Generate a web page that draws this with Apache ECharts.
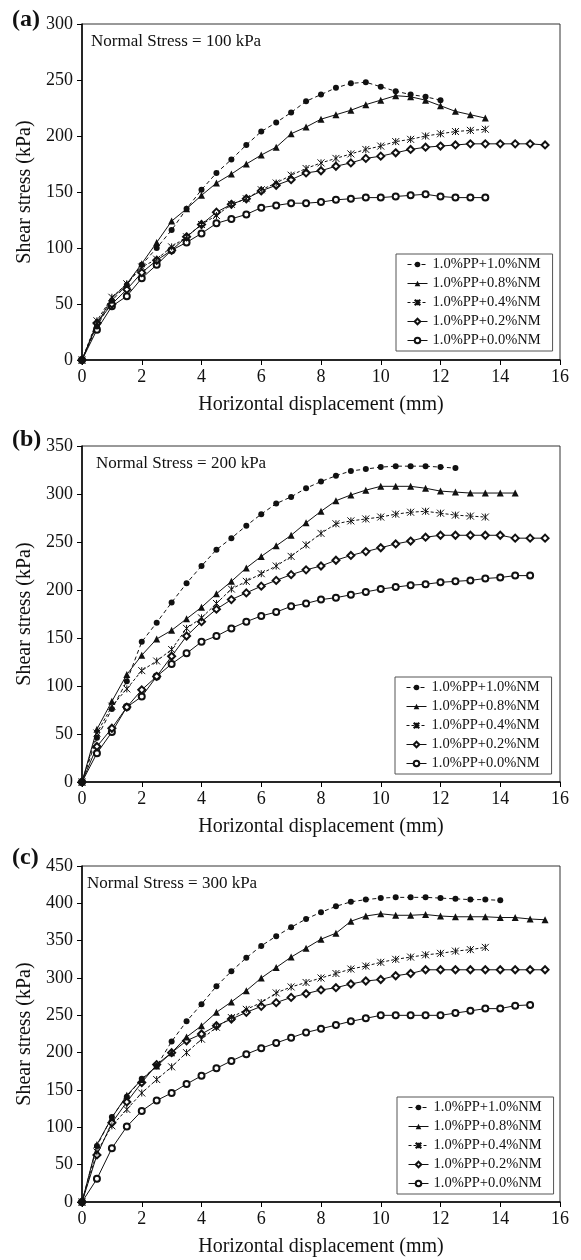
<!DOCTYPE html>
<html>
<head>
<meta charset="utf-8">
<script src="https://cdn.jsdelivr.net/npm/echarts@6/dist/echarts.min.js"></script>
<style>
  html, body { margin: 0; padding: 0; background: #fff; }
  #chart { width: 581px; height: 1260px; }
</style>
</head>
<body>
<div id="chart"></div>
<script>
// Horizontal displacement (mm) sampled every 0.5 mm
const DISP = [0, 0.5, 1, 1.5, 2, 2.5, 3, 3.5, 4, 4.5, 5, 5.5, 6, 6.5, 7, 7.5,
              8, 8.5, 9, 9.5, 10, 10.5, 11, 11.5, 12, 12.5, 13, 13.5, 14, 14.5, 15, 15.5];

const MIXES = ['1.0%PP+1.0%NM', '1.0%PP+0.8%NM', '1.0%PP+0.4%NM', '1.0%PP+0.2%NM', '1.0%PP+0.0%NM'];

const PANEL_TAGS = ['(a)', '(b)', '(c)'];
const NORMAL_STRESS = ['Normal Stress = 100 kPa', 'Normal Stress = 200 kPa', 'Normal Stress = 300 kPa'];
const X_TICKS = { min: 0, max: 16, interval: 2 };
const Y_MAX = [300, 350, 450];
const Y_STEP = 50;

// Shear stress (kPa), normal stress 100 kPa
const S100_NM10 = [0, 30, 53, 67, 85, 100, 116, 135, 152, 167, 179, 192, 204, 212, 221, 231, 237, 243, 247, 248, 244, 240, 237, 235, 232];
const S100_NM08 = [0, 32, 55, 68, 86, 105, 124, 135, 147, 158, 166, 175, 183, 190, 202, 208, 215, 219, 223, 228, 232, 236, 235, 232, 227, 222, 219, 216];
const S100_NM04 = [0, 35, 56, 68, 83, 90, 101, 110, 121, 129, 139, 144, 152, 158, 165, 171, 176, 180, 184, 188, 191, 195, 197, 200, 202, 204, 205, 206];
const S100_NM02 = [0, 33, 50, 63, 78, 89, 98, 110, 121, 132, 139, 144, 151, 156, 161, 167, 169, 173, 176, 180, 182, 185, 188, 190, 191, 192, 193, 193, 193, 193, 193, 192];
const S100_NM00 = [0, 27, 48, 57, 73, 85, 98, 105, 113, 122, 126, 130, 136, 138, 140, 140, 141, 143, 144, 145, 145, 146, 147, 148, 146, 145, 145, 145];

// Shear stress (kPa), normal stress 200 kPa
const S200_NM10 = [0, 46, 76, 105, 146, 166, 187, 207, 225, 242, 254, 267, 279, 290, 297, 306, 313, 319, 324, 326, 328, 329, 329, 329, 328, 327];
const S200_NM08 = [0, 55, 84, 112, 132, 149, 158, 170, 182, 196, 209, 223, 235, 246, 257, 270, 282, 293, 299, 304, 308, 308, 308, 306, 303, 302, 301, 301, 301, 301];
const S200_NM04 = [0, 51, 79, 97, 116, 126, 138, 160, 171, 186, 201, 209, 217, 225, 235, 247, 259, 269, 272, 274, 276, 279, 281, 282, 280, 278, 277, 276];
const S200_NM02 = [0, 37, 56, 78, 96, 110, 131, 152, 167, 180, 190, 197, 204, 210, 216, 221, 225, 231, 236, 240, 244, 248, 251, 255, 257, 257, 257, 257, 257, 254, 254, 254];
const S200_NM00 = [0, 30, 52, 78, 89, 110, 123, 134, 146, 152, 160, 167, 173, 177, 183, 186, 190, 192, 195, 198, 201, 203, 205, 206, 208, 209, 210, 212, 213, 215, 215];

// Shear stress (kPa), normal stress 300 kPa
const S300_NM10 = [0, 75, 114, 141, 165, 182, 215, 242, 265, 289, 309, 327, 343, 356, 368, 379, 388, 396, 402, 405, 407, 408, 408, 408, 407, 406, 405, 405, 404];
const S300_NM08 = [0, 77, 113, 143, 164, 182, 200, 221, 236, 254, 268, 283, 300, 314, 328, 340, 352, 360, 376, 383, 386, 384, 384, 385, 383, 382, 382, 382, 381, 381, 379, 378];
const S300_NM04 = [0, 67, 102, 124, 146, 164, 181, 200, 218, 234, 247, 258, 267, 280, 288, 294, 300, 306, 312, 316, 321, 325, 328, 331, 333, 336, 338, 341];
const S300_NM02 = [0, 63, 106, 134, 160, 184, 200, 216, 225, 236, 245, 254, 262, 267, 274, 279, 284, 287, 292, 296, 298, 303, 306, 311, 311, 311, 311, 311, 311, 311, 311, 311];
const S300_NM00 = [0, 31, 72, 101, 122, 136, 146, 158, 169, 179, 189, 198, 206, 213, 220, 227, 232, 237, 242, 246, 250, 250, 250, 250, 250, 253, 256, 259, 259, 263, 264];

const PANELS = [
  [S100_NM10, S100_NM08, S100_NM04, S100_NM02, S100_NM00],
  [S200_NM10, S200_NM08, S200_NM04, S200_NM02, S200_NM00],
  [S300_NM10, S300_NM08, S300_NM04, S300_NM02, S300_NM00]
];

const FONT = 'Liberation Serif';
const INK = '#111';
const ASTERISK = 'path://M0,0L10,10M10,0L0,10M5,0L5,10';

// marker / line look of each mix
const LOOKS = [
  { symbol: 'circle',       size: 6, dash: [4, 3], stroke: 0 },
  { symbol: 'triangle',     size: 7, dash: 'solid', stroke: 0 },
  { symbol: ASTERISK,       size: 7, dash: [3, 2], stroke: 1 },
  { symbol: 'emptyDiamond', size: 7, dash: 'solid', stroke: 1 },
  { symbol: 'emptyCircle',  size: 6, dash: 'solid', stroke: 1 }
];

// panel frames (px)
const GRID_LEFT = 82, GRID_W = 478, GRID_H = 336;
const GRID_TOPS = [24, 446, 866];
const TAG_TOPS = [8, 428, 846];
const NOTE_POS = [[91, 33], [96, 455], [87, 875]];
const LEGEND_POS = [[396, 254], [395, 677], [397, 1097]];

const grids = [], xAxes = [], yAxes = [], titles = [], legends = [], series = [];

GRID_TOPS.forEach((top, p) => {
  grids.push({
    left: GRID_LEFT, top: top, width: GRID_W, height: GRID_H,
    show: true, borderColor: '#333', borderWidth: 1, backgroundColor: 'transparent'
  });
  xAxes.push({
    type: 'value', gridIndex: p,
    min: X_TICKS.min, max: X_TICKS.max, interval: X_TICKS.interval,
    name: 'Horizontal displacement (mm)', nameLocation: 'middle', nameGap: 35,
    nameTextStyle: { fontFamily: FONT, fontSize: 20, color: INK },
    axisLine: { show: true, onZero: false, lineStyle: { color: '#000', width: 1.5 } },
    axisTick: { show: true, inside: false, length: 5, lineStyle: { color: '#000' } },
    axisLabel: { fontFamily: FONT, fontSize: 18, color: INK, margin: 8 },
    splitLine: { show: false }
  });
  yAxes.push({
    type: 'value', gridIndex: p,
    min: 0, max: Y_MAX[p], interval: Y_STEP,
    name: 'Shear stress (kPa)', nameLocation: 'middle', nameGap: 41,
    nameTextStyle: { fontFamily: FONT, fontSize: 20, color: INK },
    axisLine: { show: true, onZero: false, lineStyle: { color: '#000', width: 1.5 } },
    axisTick: { show: true, inside: false, length: 5, lineStyle: { color: '#000' } },
    axisLabel: { fontFamily: FONT, fontSize: 18, color: INK, margin: 9 },
    splitLine: { show: false }
  });
  titles.push({
    text: PANEL_TAGS[p], left: 12, top: TAG_TOPS[p], padding: 0,
    textStyle: { fontFamily: FONT, fontSize: 24, fontWeight: 'bold', color: INK }
  });
  titles.push({
    text: NORMAL_STRESS[p], left: NOTE_POS[p][0], top: NOTE_POS[p][1], padding: 0,
    textStyle: { fontFamily: FONT, fontSize: 17, fontWeight: 'normal', color: INK }
  });
  legends.push({
    data: MIXES, orient: 'vertical',
    left: LEGEND_POS[p][0], top: LEGEND_POS[p][1],
    padding: [3, 12, 3, 11], itemGap: 4, itemWidth: 20, itemHeight: 7,
    backgroundColor: '#fff', borderColor: '#555', borderWidth: 1,
    selectedMode: false,
    lineStyle: { width: 1 },
    textStyle: { fontFamily: FONT, fontSize: 14.5, color: INK, lineHeight: 15 }
  });
  PANELS[p].forEach((vals, k) => {
    const look = LOOKS[k];
    series.push({
      type: 'line', name: MIXES[k],
      xAxisIndex: p, yAxisIndex: p,
      data: vals.map((v, i) => [DISP[i], v]),
      symbol: look.symbol, symbolSize: look.size,
      showAllSymbol: true,
      lineStyle: { color: INK, width: 1, type: look.dash },
      itemStyle: { color: INK, borderColor: INK, borderWidth: look.stroke },
      emphasis: { disabled: true },
      z: 10 - k
    });
  });
});

const chart = echarts.init(document.getElementById('chart'), null, { renderer: 'canvas' });
chart.setOption({
  animation: false,
  backgroundColor: '#fff',
  title: titles,
  legend: legends,
  grid: grids,
  xAxis: xAxes,
  yAxis: yAxes,
  series: series
});
</script>
</body>
</html>
